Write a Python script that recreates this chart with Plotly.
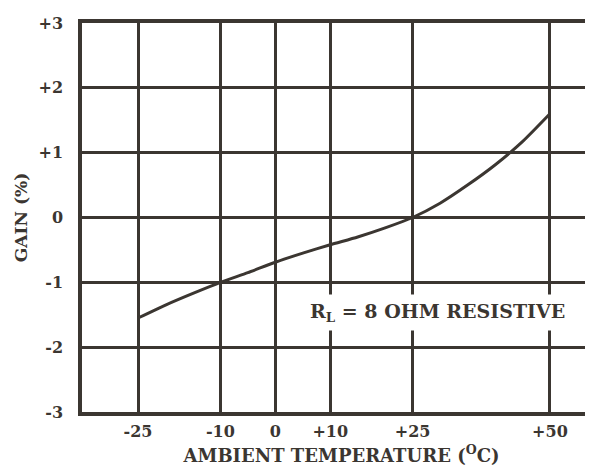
import plotly.graph_objects as go

# Data
temp_c = [-25, -20, -15, -10, -5, 0, 5, 10, 15, 20, 25, 30, 35, 40, 45, 50]
gain_pct = [-1.55, -1.35, -1.17, -1.0, -0.85, -0.69, -0.55, -0.42, -0.30, -0.16, 0.0,
            0.22, 0.50, 0.81, 1.17, 1.60]

x_tickvals = [-25, -10, 0, 10, 25, 50]
x_ticktext = ["-25", "-10", "0", "+10", "+25", "+50"]
y_tickvals = [3, 2, 1, 0, -1, -2, -3]
y_ticktext = ["+3", "+2", "+1", "0", "-1", "-2", "-3"]

ink = "#3b3631"
font_family = "DejaVu Serif"

fig = go.Figure()
fig.add_trace(go.Scatter(
    x=temp_c, y=gain_pct, mode="lines",
    line=dict(color=ink, width=3, shape="spline", smoothing=0.6),
    showlegend=False, hoverinfo="skip",
))

fig.add_annotation(
    x=29.5, y=-1.47, xref="x", yref="y",
    text="R<sub>L</sub> = 8 OHM RESISTIVE",
    showarrow=False,
    font=dict(family=font_family, size=19, color=ink, weight="bold"),
    bgcolor="white", borderpad=5,
)

fig.update_layout(
    width=593, height=475,
    margin=dict(l=74, r=0, t=15, b=71),
    paper_bgcolor="white", plot_bgcolor="white",
    font=dict(family=font_family, color=ink),
)

fig.update_xaxes(
    range=[-35.2, 59.3], automargin=False,
    tickvals=x_tickvals, ticktext=x_ticktext,
    tickfont=dict(family=font_family, size=16, color=ink, weight="bold"),
    ticks="", ticklabelstandoff=2,
    showgrid=True, gridcolor=ink, gridwidth=2.5,
    zeroline=False,
    showline=True, linecolor=ink, linewidth=3.5, mirror=True,
    title=dict(text="AMBIENT TEMPERATURE (<sup>O</sup>C)",
               font=dict(family=font_family, size=18, color=ink, weight="bold"), standoff=10),
)
fig.update_yaxes(
    range=[-3, 3], automargin=False,
    tickvals=y_tickvals, ticktext=y_ticktext,
    tickfont=dict(family=font_family, size=16, color=ink, weight="bold"),
    ticks="", ticklabelstandoff=12,
    showgrid=True, gridcolor=ink, gridwidth=2.5,
    zeroline=False,
    showline=True, linecolor=ink, linewidth=3.5,
    title=dict(text="GAIN (%)", font=dict(family=font_family, size=17, color=ink, weight="bold"),
               standoff=8),
)

fig.write_html("out.html")
